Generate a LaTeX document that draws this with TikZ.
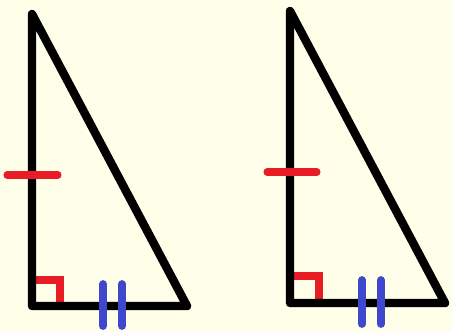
\documentclass[tikz,border=0pt]{standalone}
\usepackage{xcolor}
\usepackage{tikz}
\usetikzlibrary{calc}
\definecolor{papercream}{RGB}{254,254,233}
\definecolor{markred}{RGB}{232,28,36}
\definecolor{markblue}{RGB}{63,72,204}
\tikzset{
  side/.style={black,line width=4.8pt,line join=round,line cap=round},
  tickR/.style={markred,line width=4pt,line cap=round},
  tickB/.style={markblue,line width=4.4pt,line cap=round},
  rtmark/.style={markred,line width=4pt,line join=miter},
}
\begin{document}
\begin{tikzpicture}[x=0.02cm,y=-0.02cm]
    \fill[papercream] (0,0) rectangle (452,331);
    \useasboundingbox (0,0) rectangle (452,331);
    % left triangle
    \coordinate (A1) at (32,14);
    \coordinate (B1) at (32,306);
    \coordinate (C1) at (187,306);
    \draw[rtmark] (35,280) -- (60,280) -- (60,303);
    \draw[side] (A1) -- (B1) -- (C1) -- cycle;
    \draw[tickR] (7,175) -- (58,175);
    \draw[tickB] (103,284) -- (103,326);
    \draw[tickB] (122,284) -- (122,326);
    % right triangle
    \coordinate (A2) at (290,11);
    \coordinate (B2) at (290,303);
    \coordinate (C2) at (445,303);
    \draw[rtmark] (293,276) -- (319,276) -- (319,300);
    \draw[side] (A2) -- (B2) -- (C2) -- cycle;
    \draw[tickR] (267,172) -- (317,172);
    \draw[tickB] (362,280) -- (362,324);
    \draw[tickB] (381,280) -- (381,324);
\end{tikzpicture}
\end{document}
